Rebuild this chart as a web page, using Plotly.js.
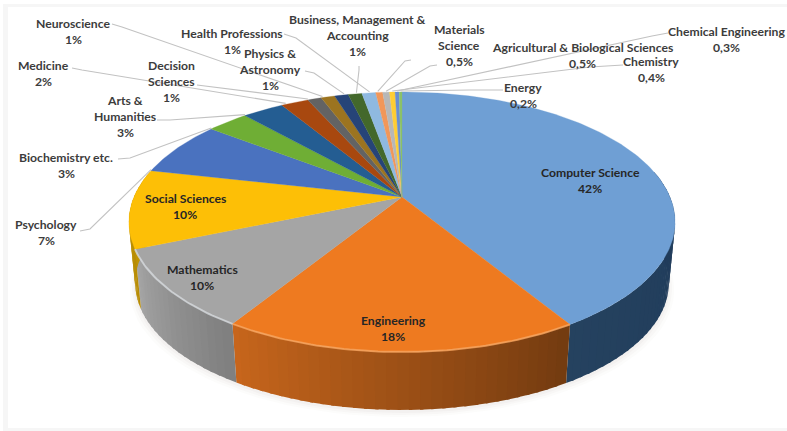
<!DOCTYPE html>
<html>
<head>
<meta charset="utf-8">
<script src="https://cdn.plot.ly/plotly-3.0.1.min.js"></script>
<style>html,body{margin:0;padding:0;background:#fff}#chart{width:787px;height:431px}</style>
</head>
<body>
<div id="chart"></div>
<script>
// Publications by subject area, drawn clockwise from twelve o'clock.
const subjects = ["Computer Science","Engineering","Mathematics","Social Sciences","Psychology",
  "Biochemistry etc.","Arts & Humanities","Medicine","Decision Sciences","Neuroscience",
  "Physics & Astronomy","Business, Management & Accounting","Health Professions",
  "Agricultural & Biological Sciences","Materials Science","Chemistry","Chemical Engineering","Energy"];
const shares = [42,18,10,10,7,3,3,2,1,1,1,1,1,0.5,0.5,0.4,0.3,0.2];
const shareText = ["42%","18%","10%","10%","7%","3%","3%","2%","1%","1%","1%","1%","1%","0,5%","0,5%","0,4%","0,3%","0,2%"];
const topColors = ["#6f9fd4","#ee7a20","#a5a5a5","#fdbf06","#4a72bf","#6fae35","#245d92","#a8480f","#636363","#9c7420",
  "#264478","#43682b","#8fb9e0","#f1975a","#b7b7b7","#ffcd33","#698ed0","#8cc168"];
// Side wall shading at the two ends of each visible slice edge.
const wallFrom = {0:"#1f3a5a",1:"#733b10",2:"#7f7f7f",3:"#b78c05"};
const wallTo   = {0:"#25425f",1:"#c8661c",2:"#a6a6a6",3:"#c79a00"};
const rimColors = {1:"#f6a560",2:"#d5d8dc"};

// Label text lines, their centre positions (px) and where each leader line leaves the label.
const labelLines = [
  ["Computer Science"],["Engineering"],["Mathematics"],["Social Sciences"],["Psychology"],
  ["Biochemistry etc."],["Arts &","Humanities"],["Medicine"],["Decision","Sciences"],["Neuroscience"],
  ["Physics &","Astronomy"],["Business, Management &","Accounting"],["Health Professions"],
  ["Agricultural & Biological Sciences"],["Materials","Science"],["Chemistry"],["Chemical Engineering"],["Energy"]];
const labelX = [590,393,202,185,46,66,125,43,171,73,270,357,232,582,459,651,726,523];
const labelY = [172,320,269,198,224,157,100,65,65,23,53,19,33,47,29,61,31,87];
const lineGap = 16;
// Leader polyline start points; the last point is computed on the rim of the slice.
const leaderStart = {
  4:[[80,231],[90,229]], 5:[[118,159],[130,158]], 6:[[157,120],[170,120]], 7:[[72,68],[82,70]],
  8:[[197,85],[205,86]], 9:[[112,24],[122,27]], 10:[[305,71],[314,73]], 11:[[359,66],[359,70]],
  12:[[284,34],[296,38]], 13:[[411,60],[405,61]], 14:[[437,65],[430,66]], 15:[[623,65],[590,67]],
  16:[[668,33],[652,36]], 17:[[503,90],[470,90]]};
// Position within the slice's angular span where each leader lands.
const leaderAt = {4:0,5:0,6:0,7:0.15,8:0,9:0.1,10:0.7,11:0.6,12:0.55,13:0.3,14:0.5,15:0.5,16:0.5,17:0.5};

// Disc projection: a circle seen in perspective, so the centre sits above the ellipse middle.
const cx = 402, cy = 197, projA = 268, projB = 125.2, persp = 0.192;
const wallDrop = 61, wallScale = 0.977, ellipseMidY = 222;
function rimPoint(deg){
  const t = deg*Math.PI/180, u = Math.sin(t), v = -Math.cos(t), w = 1-persp*v;
  return [cx+projA*u/w, cy+projB*v/w];
}
function lowerPoint(p){
  return [cx+wallScale*(p[0]-cx), ellipseMidY+wallDrop+wallScale*(p[1]-ellipseMidY)];
}
function hexMix(a,b,f){
  const c = h=>[1,3,5].map(i=>parseInt(h.substr(i,2),16));
  const A=c(a),B=c(b);
  return "rgb("+A.map((x,i)=>Math.round(x+(B[i]-x)*f)).join(",")+")";
}
const total = shares.reduce((s,x)=>s+x,0);
const edges = [0];
shares.forEach(s=>edges.push(edges[edges.length-1]+s/total*360));
function poly(xy,color,lw){
  return {type:"scatter",mode:"lines",x:xy.map(p=>p[0]),y:xy.map(p=>p[1]),fill:"toself",fillcolor:color,
    line:{color:color,width:lw===undefined?0.6:lw},hoverinfo:"skip",showlegend:false};
}
function arc(a,b,step){
  const n=Math.max(2,Math.ceil((b-a)/step)),o=[];
  for(let i=0;i<=n;i++)o.push(rimPoint(a+(b-a)*i/n));
  return o;
}
const traces=[];
// Soft shadow beneath the disc
[[1.02,7,0.025],[1.012,5,0.03],[1.005,3,0.04]].forEach(function(s){
  const ring=arc(70,290,3).map(lowerPoint).map(p=>[cx+(p[0]-cx)*s[0],p[1]+s[1]]);
  traces.push(poly(ring,"rgba(120,110,100,"+s[2]+")",0));
});
// Side wall: narrow overlapping strips so the shading runs smoothly along the edge
const wallRange=[78,282];
[0,1,2,3].forEach(function(i){
  const a=Math.max(edges[i],wallRange[0]), b=Math.min(edges[i+1],wallRange[1]);
  const n=Math.ceil((b-a)/2);
  for(let k=n-1;k>=0;k--){
    const d0=a+(b-a)*k/n,d1=Math.min(b,a+(b-a)*(k+1)/n+0.6);
    const top=arc(d0,d1,0.5),low=top.map(lowerPoint).reverse();
    traces.push(poly(top.concat(low),hexMix(wallFrom[i],wallTo[i],(k+0.5)/n),0));
  }
});
// Top surface
shares.forEach(function(s,i){
  const pts=[[cx,cy]].concat(arc(edges[i],edges[i+1],1)).concat([[cx,cy]]);
  traces.push(poly(pts,topColors[i],0.3));
});
// Lit bevel along the front rim
Object.keys(rimColors).forEach(function(k){
  const i=+k,pts=arc(edges[i],edges[i+1],1);
  traces.push({type:"scatter",mode:"lines",x:pts.map(p=>p[0]),y:pts.map(p=>p[1]),
    line:{color:rimColors[k],width:2},hoverinfo:"skip",showlegend:false,opacity:0.8});
});
// Leader lines
Object.keys(leaderStart).forEach(function(k){
  const i=+k,end=rimPoint(edges[i]+(edges[i+1]-edges[i])*leaderAt[k]);
  const pts=leaderStart[k].concat([[end[0],end[1]-1]]);
  traces.push({type:"scatter",mode:"lines",x:pts.map(p=>p[0]),y:pts.map(p=>p[1]),
    line:{color:"#c2c2c2",width:1.1},hoverinfo:"skip",showlegend:false});
});
const annotations=[];
subjects.forEach(function(name,i){
  const lines=labelLines[i].concat([shareText[i]]);
  lines.forEach(function(t,j){
    annotations.push({xref:"x",yref:"y",x:labelX[i],y:labelY[i]+j*lineGap,text:"<b>"+t.replace("&","&amp;")+"</b>",showarrow:false,
      xanchor:"center",yanchor:"middle",font:{family:"Lato, 'Open Sans', sans-serif",size:12.2,color:i<4?"#262626":"#3c3c3c"}});
  });
});
// Faint frame bands along the page edges
const frame=[[3,4,8,429],[3,4,787,7],[3,428,787,431]];
Plotly.newPlot("chart",traces,{
  width:787,height:431,margin:{l:0,r:0,t:0,b:0},paper_bgcolor:"#ffffff",plot_bgcolor:"#ffffff",showlegend:false,
  xaxis:{range:[0,787],visible:false,fixedrange:true},
  yaxis:{range:[431,0],visible:false,fixedrange:true},
  annotations:annotations,
  shapes:frame.map(f=>({type:"rect",xref:"x",yref:"y",x0:f[0],y0:f[1],x1:f[2],y1:f[3],line:{width:0},fillcolor:"#f6f6f6",layer:"below"}))
},{displayModeBar:false,staticPlot:true});
</script>
</body>
</html>
